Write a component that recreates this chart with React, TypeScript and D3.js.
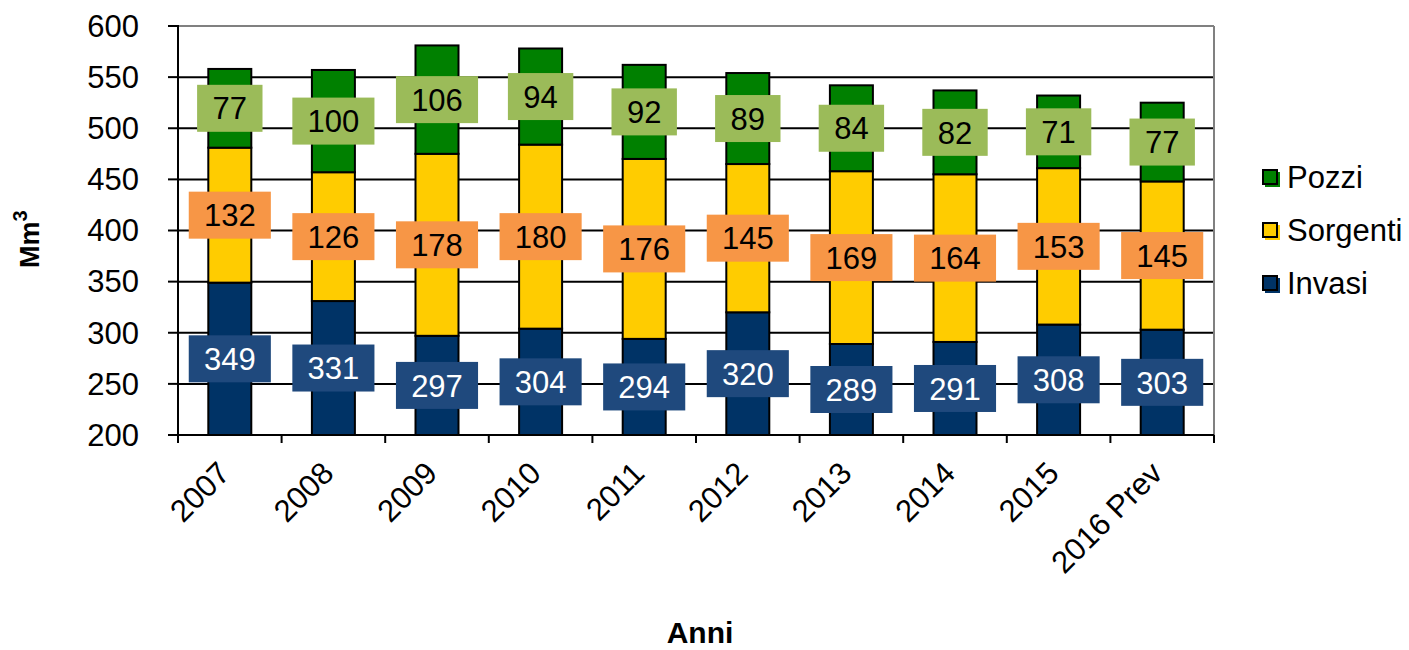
import React from "react";
import * as d3 from "d3";

// Volumi prelevati per anno (Mm³)
const years = ["2007", "2008", "2009", "2010", "2011", "2012", "2013", "2014", "2015", "2016 Prev"];
const invasi = [349, 331, 297, 304, 294, 320, 289, 291, 308, 303];
const sorgenti = [132, 126, 178, 180, 176, 145, 169, 164, 153, 145];
const pozzi = [77, 100, 106, 94, 92, 89, 84, 82, 71, 77];
const yTicks = [200, 250, 300, 350, 400, 450, 500, 550, 600];

const seriesDefs = [
  { name: "Invasi", values: invasi, fill: "#003366", labelFill: "#1F497D", labelText: "#FFFFFF" },
  { name: "Sorgenti", values: sorgenti, fill: "#FFCC00", labelFill: "#F79646", labelText: "#000000" },
  { name: "Pozzi", values: pozzi, fill: "#008000", labelFill: "#9BBB59", labelText: "#000000" },
];

const W = 1409;
const H = 650;
const left = 178;
const right = 1214;
const top = 26;
const bottom = 435;
const font = "'Liberation Sans', Arial, sans-serif";
const fs = 31;

export default function App() {
  const x = d3
    .scaleBand<string>()
    .domain(years)
    .range([left, right])
    .paddingInner(0.585)
    .paddingOuter(0.2925);
  const step = x.step();
  const y = d3.scaleLinear().domain([200, 600]).range([bottom, top]);

  const stack = d3
    .stack<number>()
    .keys(seriesDefs.map((_, i) => String(i)))
    .value((i, key) => seriesDefs[+key].values[i]);
  const stacked = stack(years.map((_, i) => i));

  const [y0, y1] = y.domain();
  const clampV = (v: number) => Math.max(y0, Math.min(y1, v));

  const legendItems = [...seriesDefs].reverse();

  return (
    <svg
      width={W}
      height={H}
      style={{ position: "absolute", left: 0, top: 0, background: "#fff" }}
      fontFamily={font}
    >
      <defs>
        <clipPath id="plot-clip">
          <rect x={left} y={top} width={right - left} height={bottom - top} />
        </clipPath>
      </defs>

      {/* gridlines */}
      {yTicks.slice(1, -1).map((t) => (
        <line key={t} x1={left} x2={right} y1={y(t)} y2={y(t)} stroke="#000" strokeWidth={2} />
      ))}
      {/* plot frame: gray top and right */}
      <line x1={left} x2={right} y1={top} y2={top} stroke="#808080" strokeWidth={2} />
      <line x1={right} x2={right} y1={top} y2={bottom} stroke="#808080" strokeWidth={2} />

      {/* stacked bars */}
      <g clipPath="url(#plot-clip)">
        {stacked.map((layer, si) =>
          layer.map((d, i) => {
            const a = clampV(d[0]);
            const b = clampV(d[1]);
            return (
              <rect
                key={`${si}-${i}`}
                x={x(years[i])!}
                y={y(b)}
                width={x.bandwidth()}
                height={y(a) - y(b)}
                fill={seriesDefs[si].fill}
                stroke="#000"
                strokeWidth={2}
              />
            );
          })
        )}
      </g>

      {/* axes */}
      <line x1={left} x2={left} y1={top - 1} y2={bottom + 1} stroke="#000" strokeWidth={2} />
      <line x1={left - 10} x2={right} y1={bottom} y2={bottom} stroke="#000" strokeWidth={2} />
      {yTicks.map((t) => (
        <g key={t}>
          <line x1={left - 10} x2={left} y1={y(t)} y2={y(t)} stroke="#000" strokeWidth={2} />
          <text x={left - 39} y={y(t)} dy="0.35em" textAnchor="end" fontSize={fs} fill="#000">
            {t}
          </text>
        </g>
      ))}
      {d3.range(years.length + 1).map((i) => {
        const xp = left + i * step;
        return <line key={i} x1={xp} x2={xp} y1={bottom} y2={bottom + 8} stroke="#000" strokeWidth={2} />;
      })}
      {years.map((yr) => {
        const cx = x(yr)! + x.bandwidth() / 2;
        return (
          <text
            key={yr}
            transform={`translate(${cx + 2},${bottom + 40}) rotate(-45)`}
            textAnchor="end"
            fontSize={fs}
            fill="#000"
          >
            {yr}
          </text>
        );
      })}

      {/* value labels */}
      {stacked.map((layer, si) =>
        layer.map((d, i) => {
          const a = clampV(d[0]);
          const b = clampV(d[1]);
          const cx = x(years[i])! + x.bandwidth() / 2;
          const cy = (y(a) + y(b)) / 2;
          const txt = String(seriesDefs[si].values[i]);
          const w = txt.length * 16.7 + 32;
          const h = 47;
          return (
            <g key={`l-${si}-${i}`}>
              <rect x={cx - w / 2} y={cy - h / 2} width={w} height={h} fill={seriesDefs[si].labelFill} />
              <text
                x={cx}
                y={cy}
                dy="0.36em"
                textAnchor="middle"
                fontSize={fs}
                fill={seriesDefs[si].labelText}
              >
                {txt}
              </text>
            </g>
          );
        })
      )}

      {/* legend */}
      {legendItems.map((s, i) => {
        const cy = 177 + i * 53;
        return (
          <g key={s.name}>
            <rect x={1265} y={cy - 5} width={15} height={15} fill={s.fill} />
            <rect x={1263} y={cy - 7} width={14} height={14} fill={s.fill} stroke="#000" strokeWidth={2} />
            <text x={1287} y={cy} dy="0.35em" fontSize={fs} fill="#000">
              {s.name}
            </text>
          </g>
        );
      })}

      {/* axis titles */}
      <text
        transform="translate(39,268) rotate(-90)"
        textAnchor="start"
        fontSize={27}
        fontWeight="bold"
        fill="#000"
      >
        Mm<tspan fontSize={20} dy={-12}>3</tspan>
      </text>
      <text x={(left + right) / 2 + 4} y={643} textAnchor="middle" fontSize={30} fontWeight="bold" fill="#000">
        Anni
      </text>
    </svg>
  );
}
